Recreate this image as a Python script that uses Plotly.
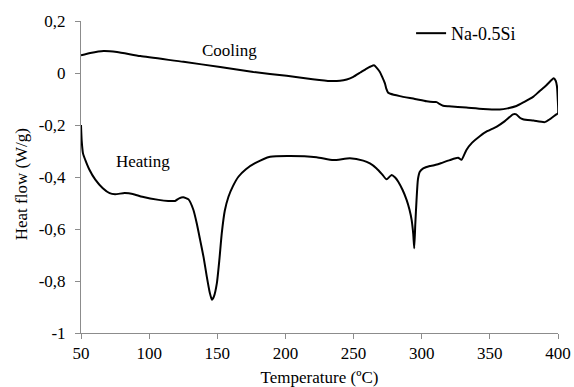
import plotly.graph_objects as go

# Heating segment (50 -> 400 C)
heat_T = [50, 50.5, 51.5, 53.2, 56, 60.5, 66, 71, 75, 82, 88, 95, 107, 114, 119, 122, 125,
          128.9, 132.5, 135, 137.4, 140, 142.3, 144.5, 146, 147.5, 149.7, 151.5, 153.3, 155.5,
          158.2, 161.5, 165.5, 171, 177.7, 188.8, 203.4, 222.9, 235.1, 247.3, 257.1, 262,
          266.9, 271, 274.2, 277.9, 280.5, 282.8, 286, 288.9, 291, 292.6, 293.8, 294.5, 295.3,
          296.2, 297.2, 298.6, 301.1, 306, 308.4, 314, 320.6, 326.7, 329.2, 332.8, 337, 342.6,
          348, 354.8, 361, 367, 369.4, 372, 374.3, 382, 390.2, 394, 398.8, 400]
heat_Q = [-0.20, -0.26, -0.31, -0.335, -0.37, -0.41, -0.443, -0.462, -0.466, -0.462, -0.465,
          -0.476, -0.488, -0.492, -0.492, -0.482, -0.478, -0.486, -0.527, -0.58, -0.642, -0.71,
          -0.783, -0.845, -0.872, -0.86, -0.808, -0.72, -0.616, -0.53, -0.476, -0.435, -0.399,
          -0.37, -0.347, -0.322, -0.319, -0.324, -0.335, -0.328, -0.337, -0.348, -0.367, -0.39,
          -0.409, -0.392, -0.402, -0.418, -0.45, -0.488, -0.525, -0.565, -0.62, -0.674, -0.58,
          -0.488, -0.41, -0.38, -0.367, -0.358, -0.356, -0.347, -0.335, -0.326, -0.334, -0.296,
          -0.268, -0.243, -0.224, -0.207, -0.185, -0.159, -0.159, -0.172, -0.178, -0.183,
          -0.189, -0.178, -0.159, -0.155]

# Cooling segment (400 -> 50 C)
cool_T = [399.8, 399.2, 398.3, 396.8, 395, 391.5, 386, 381.7, 375, 369.5, 363, 357.3, 345,
          332.8, 320, 315.7, 313, 311, 308.4, 303.6, 295, 284, 277, 275.4, 274, 273, 271,
          269.3, 267, 265, 262.5, 259.6, 255, 249.8, 245, 240, 232.7, 220, 200.9, 176.5,
          152.1, 125.2, 93.5, 76.4, 66.6, 56.8, 50]
cool_Q = [-0.10, -0.05, -0.03, -0.02, -0.028, -0.047, -0.072, -0.092, -0.112, -0.127, -0.136,
          -0.14, -0.138, -0.133, -0.128, -0.126, -0.119, -0.112, -0.112, -0.109, -0.1, -0.089,
          -0.08, -0.076, -0.06, -0.04, -0.015, 0.004, 0.02, 0.03, 0.025, 0.017, 0.002, -0.015,
          -0.025, -0.03, -0.031, -0.024, -0.011, 0.004, 0.023, 0.043, 0.065, 0.081, 0.085,
          0.077, 0.068]

x_ticks = [50, 100, 150, 200, 250, 300, 350, 400]
y_ticks = [0.2, 0, -0.2, -0.4, -0.6, -0.8, -1]
y_tick_text = ["0,2", "0", "-0,2", "-0,4", "-0,6", "-0,8", "-1"]

FONT = "Liberation Serif"
AX = "#8c8c8c"

fig = go.Figure()
fig.add_trace(go.Scatter(
    x=heat_T + cool_T, y=heat_Q + cool_Q, mode="lines", name="Na-0.5Si",
    line=dict(color="black", width=2, shape="spline", smoothing=0.5),
))

fig.add_annotation(x=159, y=0.0875, text="Cooling", showarrow=False,
                   font=dict(family=FONT, size=17, color="black"))
fig.add_annotation(x=95.3, y=-0.341, text="Heating", showarrow=False,
                   font=dict(family=FONT, size=17, color="black"))
# y-axis title (placed slightly below plot centre, as in the reference)
fig.add_annotation(xref="paper", yref="paper", x=-0.124, y=0.476, text="Heat flow (W/g)",
                   textangle=-90, showarrow=False, xanchor="center", yanchor="middle",
                   font=dict(family=FONT, size=17, color="black"))

fig.update_layout(
    width=574, height=387,
    margin=dict(l=81, r=16, t=21, b=54, autoexpand=False),
    paper_bgcolor="white", plot_bgcolor="white",
    font=dict(family=FONT, size=17, color="black"),
    showlegend=True,
    legend=dict(x=0.692, y=0.96, xanchor="left", yanchor="middle",
                bgcolor="rgba(0,0,0,0)", font=dict(family=FONT, size=18, color="black"),
                itemwidth=30),
    xaxis=dict(range=[50, 400], tickvals=x_ticks, showgrid=False, zeroline=False,
               automargin=False,
               showline=True, linecolor=AX, linewidth=1, ticks="outside", ticklen=5,
               tickcolor=AX, tickfont=dict(family=FONT, size=17, color="black"),
               title=dict(text="Temperature (ºC)", font=dict(family=FONT, size=17), standoff=8)),
    yaxis=dict(range=[-1, 0.2], tickvals=y_ticks, ticktext=y_tick_text, showgrid=False,
               automargin=False, ticklabelstandoff=6,
               zeroline=False, showline=True, linecolor=AX, linewidth=1, ticks="outside",
               ticklen=5, tickcolor=AX, tickfont=dict(family=FONT, size=17, color="black")),
)

fig.write_html("out.html")
